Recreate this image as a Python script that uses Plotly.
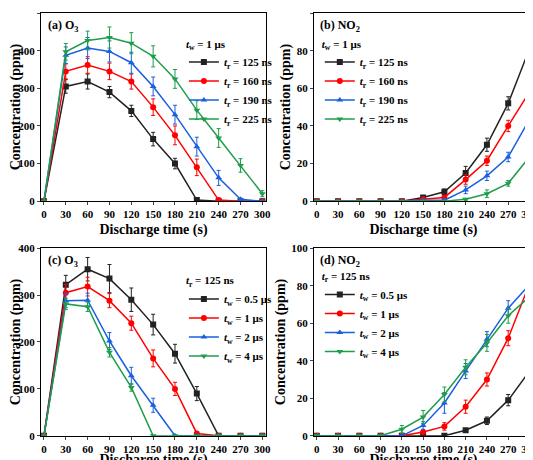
import plotly.graph_objects as go

t = [0, 30, 60, 90, 120, 150, 180, 210, 240, 270, 300]
xticks = t

a_names = ["125 ns", "160 ns", "190 ns", "225 ns"]
a_vals = [
    [0, 305, 318, 290, 240, 165, 100, 3, 0, 0, 0],
    [0, 345, 362, 345, 318, 250, 175, 90, 3, 0, 0],
    [0, 388, 407, 398, 368, 305, 230, 145, 62, 5, 0],
    [0, 397, 427, 435, 420, 385, 325, 242, 168, 95, 20],
]
a_err = [
    [0, 18, 20, 15, 15, 18, 14, 3, 0, 0, 0],
    [0, 20, 22, 22, 20, 22, 25, 22, 3, 0, 0],
    [0, 22, 28, 28, 28, 25, 25, 25, 20, 3, 0],
    [0, 22, 25, 28, 28, 28, 25, 25, 25, 18, 8],
]
b_vals = [
    [0, 0, 0, 0, 0, 2, 5, 15, 30, 52, 81],
    [0, 0, 0, 0, 0, 1, 2, 11.5, 21.5, 40, 58],
    [0, 0, 0, 0, 0, 0.5, 0.5, 6, 13.5, 23.5, 43.5],
    [0, 0, 0, 0, 0, 0, 0, 1, 4, 9.5, 23.5],
]
b_err = [
    [0, 0, 0, 0, 0, 0.7, 1.5, 3.5, 3.5, 3.5, 3.5],
    [0, 0, 0, 0, 0, 0.5, 1, 2.5, 2.5, 3, 3],
    [0, 0, 0, 0, 0, 0.3, 0.5, 2, 2.5, 2.5, 3],
    [0, 0, 0, 0, 0, 0, 0, 0.5, 2, 1.5, 2],
]
c_names = ["0.5 μs", "1 μs", "2 μs", "4 μs"]
c_vals = [
    [0, 322, 355, 335, 290, 237, 175, 90, 0, 0, 0],
    [0, 305, 318, 288, 240, 165, 100, 5, 0, 0, 0],
    [0, 288, 289, 202, 128, 65, 0, 0, 0, 0, 0],
    [0, 281, 275, 178, 103, 0, 0, 0, 0, 0, 0],
]
c_err = [
    [0, 20, 25, 30, 25, 22, 20, 15, 0, 0, 0],
    [0, 18, 20, 15, 15, 18, 14, 3, 0, 0, 0],
    [0, 15, 15, 18, 18, 15, 0, 0, 0, 0, 0],
    [0, 12, 10, 10, 8, 0, 0, 0, 0, 0, 0],
]
d_vals = [
    [0, 0, 0, 0, 0, 0, 0, 3, 8, 19, 34.5],
    [0, 0, 0, 0, 0, 2, 5, 15.5, 30, 52, 81],
    [0, 0, 0, 0, 0, 5.5, 17.5, 34.5, 51.5, 68, 80.5],
    [0, 0, 0, 0, 3.5, 10, 22, 36.5, 49.5, 64, 74],
]
d_err = [
    [0, 0, 0, 0, 0, 0, 0, 0.5, 2, 3, 3],
    [0, 0, 0, 0, 0, 0.7, 2, 3.5, 3.5, 4, 4],
    [0, 0, 0, 0, 0, 2, 5.5, 4, 4, 4, 4.5],
    [0, 0, 0, 0, 2, 3.5, 4, 4, 4.5, 4, 5],
]

colors = ["#222222", "#ff0000", "#1a5fe0", "#1e9e4a"]
symbols = ["square", "circle", "triangle-up", "triangle-down"]
FONT = "Liberation Serif"

fig = go.Figure()
panels = [
    ("x", "y", a_vals, a_err, a_names, "r", "legend", "(a) O<sub>3</sub>", "<i>t</i><sub>w</sub> = 1 μs"),
    ("x2", "y2", b_vals, b_err, a_names, "r", "legend2", "(b) NO<sub>2</sub>", "<i>t</i><sub>w</sub> = 1 μs"),
    ("x3", "y3", c_vals, c_err, c_names, "w", "legend3", "(c) O<sub>3</sub>", "<i>t</i><sub>r</sub> = 125 ns"),
    ("x4", "y4", d_vals, d_err, c_names, "w", "legend4", "(d) NO<sub>2</sub>", "<i>t</i><sub>r</sub> = 125 ns"),
]
for xa, ya, vals, errs, names, sub, leg, lab, ttl in panels:
    for i in range(4):
        fig.add_trace(go.Scatter(
            x=t, y=vals[i], xaxis=xa, yaxis=ya, legend=leg,
            mode="lines+markers",
            name=f"<i>t</i><sub>{sub}</sub> = {names[i]}",
            line=dict(color=colors[i], width=1.5),
            marker=dict(symbol=symbols[i], size=6, color=colors[i]),
            error_y=dict(type="data", array=errs[i], color=colors[i], thickness=1, width=2),
        ))

doms_x = [[0.062, 0.484], [0.574, 0.985], [0.062, 0.484], [0.574, 0.985]]
doms_y = [[0.580, 0.989], [0.580, 0.989], [0.070, 0.478], [0.070, 0.478]]
yr = [[0, 500, 100], [0, 100, 20], [0, 400, 100], [0, 100, 20]]
legpos = [(0.33, 0.945), (0.585, 0.945), (0.33, 0.43), (0.585, 0.44)]

lay = {}
for k in range(4):
    sfx = "" if k == 0 else str(k + 1)
    lay["xaxis" + sfx] = dict(
        domain=doms_x[k], range=[-4, 305], tickvals=xticks, anchor="y" + sfx, automargin=False,
        showline=True, mirror=True, linecolor="black", linewidth=1, ticks="outside", ticklen=3,
        showgrid=False, zeroline=False, title=dict(text="<b>Discharge time (s)</b>", standoff=4),
        tickfont=dict(family=FONT, size=11, color="black"),
    )
    lay["yaxis" + sfx] = dict(
        domain=doms_y[k], range=yr[k][:2], dtick=yr[k][2], anchor="x" + sfx, automargin=False,
        showline=True, mirror=True, linecolor="black", linewidth=1, ticks="outside", ticklen=3,
        showgrid=False, zeroline=False, title=dict(text="<b>Concentration (ppm)</b>", standoff=2),
        tickfont=dict(family=FONT, size=11, color="black"),
    )
    lay["legend" + ("" if k == 0 else str(k + 1))] = dict(
        x=legpos[k][0], y=legpos[k][1], xanchor="left", yanchor="top",
        bgcolor="rgba(0,0,0,0)", title=dict(text="<b>" + panels[k][8] + "</b>", font=dict(size=11)),
        font=dict(family=FONT, size=11, color="black"), tracegroupgap=0, itemwidth=30,
    )
    fig.add_annotation(x=0.02, y=0.985, xref=f"x{sfx} domain", yref=f"y{sfx} domain",
                       text="<b>" + panels[k][7] + "</b>", showarrow=False,
                       xanchor="left", yanchor="top", font=dict(family=FONT, size=12, color="black"))

fig.update_layout(
    width=533, height=460, margin=dict(l=0, r=0, t=0, b=0, autoexpand=False),
    plot_bgcolor="white", paper_bgcolor="white",
    font=dict(family=FONT, size=12, color="black", weight="bold"),
    **lay,
)
fig.write_html("out.html")
